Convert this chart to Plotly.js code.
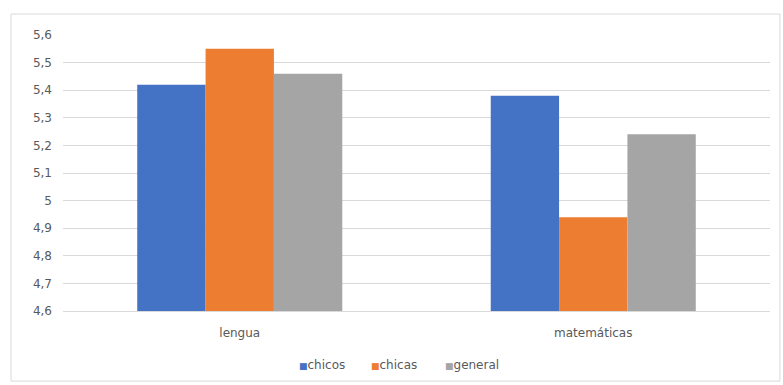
<!DOCTYPE html>
<html>
<head>
<meta charset="utf-8">
<script src="https://cdn.plot.ly/plotly-3.0.1.min.js"></script>
<style>
  html, body { margin: 0; padding: 0; background: #ffffff; }
  #chart { width: 783px; height: 385px; }
</style>
</head>
<body>
<div id="chart"></div>
<script>
// Subjects on the category axis
const categories = ['lengua', 'matemáticas'];

// Average marks per group
const chicos = [5.42, 5.38];
const chicas = [5.55, 4.94];
const general = [5.46, 5.24];

// Value axis ticks (comma decimal separator)
const tickValues = [4.6, 4.7, 4.8, 4.9, 5.0, 5.1, 5.2, 5.3, 5.4, 5.5, 5.6];
const tickLabels = ['4,6', '4,7', '4,8', '4,9', '5', '5,1', '5,2', '5,3', '5,4', '5,5', '5,6'];

const textColor = '#595959';
const gridColor = '#d9d9d9';
const fontFamily = '"DejaVu Sans", Verdana, sans-serif';

const series = [
  { name: 'chicos', y: chicos, color: '#4472C4', legendX: 0.331 },
  { name: 'chicas', y: chicas, color: '#ED7D31', legendX: 0.433 },
  { name: 'general', y: general, color: '#A5A5A5', legendX: 0.538 }
];

const traces = series.map(s => ({
  type: 'bar',
  name: s.name,
  x: categories,
  y: s.y,
  marker: { color: s.color, line: { width: 0 } },
  hoverinfo: 'x+y+name'
}));

// Compact legend: small coloured square followed by the series name
const legendNotes = series.map(s => ({
  xref: 'paper', yref: 'paper',
  x: s.legendX, y: -0.196,
  xanchor: 'left', yanchor: 'middle',
  showarrow: false,
  text: '<span style="color:' + s.color + ';font-size:9px">■</span>' + s.name,
  font: { family: fontFamily, size: 12, color: textColor }
}));

const layout = {
  width: 783,
  height: 385,
  margin: { l: 63, r: 13, t: 35, b: 74 },
  paper_bgcolor: '#ffffff',
  plot_bgcolor: '#ffffff',
  font: { family: fontFamily, size: 12, color: textColor },
  separators: ', ',
  barmode: 'group',
  bargap: 0.42,
  bargroupgap: 0,
  showlegend: false,
  xaxis: {
    type: 'category',
    showgrid: false,
    showline: true,
    linecolor: gridColor,
    linewidth: 1,
    ticks: '',
    ticklabelstandoff: 11,
    tickfont: { family: fontFamily, size: 12, color: textColor },
    fixedrange: true
  },
  yaxis: {
    range: [4.6, 5.6],
    tickvals: tickValues,
    ticktext: tickLabels,
    showgrid: true,
    gridcolor: gridColor,
    gridwidth: 1,
    zeroline: false,
    showline: false,
    ticks: '',
    ticklabelstandoff: 10,
    tickfont: { family: fontFamily, size: 12, color: textColor },
    fixedrange: true
  },
  annotations: legendNotes,
  shapes: [
    {
      // chart frame
      type: 'rect',
      xref: 'paper', yref: 'paper',
      x0: -0.0735, x1: 1.014,
      y0: -0.254, y1: 1.076,
      line: { color: gridColor, width: 1 },
      fillcolor: 'rgba(0,0,0,0)',
      layer: 'below'
    }
  ]
};

Plotly.newPlot('chart', traces, layout, { displayModeBar: false, staticPlot: true });
</script>
</body>
</html>
